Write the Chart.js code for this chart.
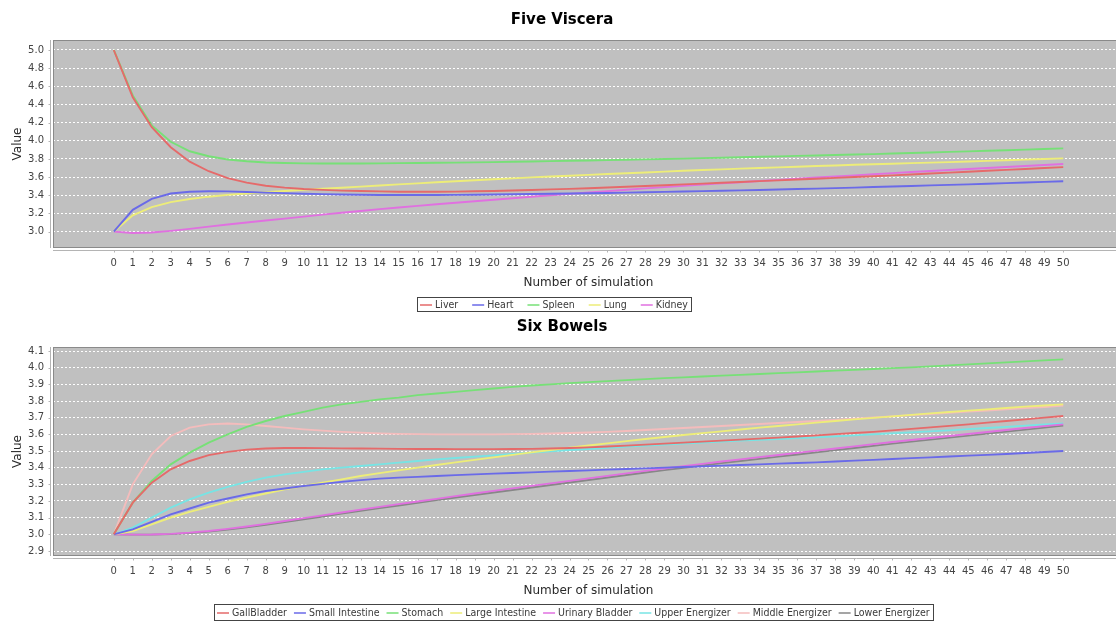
<!DOCTYPE html>
<html>
<head>
<meta charset="utf-8">
<script src="https://cdn.jsdelivr.net/npm/chart.js@4.4.1/dist/chart.umd.min.js"></script>
<style>
  html, body { margin: 0; padding: 0; background: #ffffff; overflow: hidden; width: 1116px; height: 621px; }
  .panel { position: absolute; left: 0; }
  #panelTop { top: 0; }
  #panelBottom { top: 315px; }
</style>
</head>
<body>
<div class="panel" id="panelTop"><canvas id="viscera" width="1133" height="315" style="width:1133px;height:315px"></canvas></div>
<div class="panel" id="panelBottom"><canvas id="bowels" width="1133" height="306" style="width:1133px;height:306px"></canvas></div>
<script>
// Simulation steps shown on the x axis
const simulationSteps = ["0","1","2","3","4","5","6","7","8","9","10","11","12","13","14","15","16","17","18","19","20",
  "21","22","23","24","25","26","27","28","29","30","31","32","33","34","35","36","37","38","39","40",
  "41","42","43","44","45","46","47","48","49","50"];

// ---- Five Viscera ----
const visceraNames = ["Liver", "Heart", "Spleen", "Lung", "Kidney"];
const liver = [5.0,4.48,4.15,3.93,3.77,3.665,3.59,3.54,3.505,3.485,3.47,
  3.46,3.452,3.447,3.443,3.44,3.44,3.44,3.441,3.444,3.448,
  3.453,3.459,3.465,3.471,3.478,3.486,3.494,3.502,3.511,3.52,
  3.529,3.538,3.547,3.556,3.565,3.574,3.583,3.592,3.601,3.61,
  3.62,3.63,3.64,3.65,3.66,3.67,3.68,3.69,3.70,3.71];
const heart = [3.0,3.24,3.36,3.42,3.44,3.445,3.443,3.437,3.43,3.424,3.418,
  3.413,3.409,3.406,3.404,3.403,3.403,3.404,3.405,3.407,3.409,
  3.411,3.414,3.417,3.42,3.423,3.426,3.43,3.434,3.438,3.442,
  3.446,3.45,3.454,3.459,3.464,3.469,3.474,3.479,3.485,3.491,
  3.497,3.503,3.509,3.515,3.521,3.527,3.534,3.541,3.548,3.555];
const spleen = [5.0,4.5,4.17,3.99,3.885,3.83,3.795,3.775,3.762,3.755,3.752,
  3.75,3.75,3.75,3.752,3.754,3.756,3.758,3.76,3.763,3.766,
  3.769,3.772,3.776,3.78,3.784,3.788,3.792,3.796,3.80,3.804,
  3.809,3.814,3.819,3.824,3.829,3.834,3.839,3.844,3.849,3.854,
  3.86,3.866,3.872,3.878,3.884,3.89,3.896,3.903,3.91,3.917];
const lung = [3.0,3.18,3.27,3.325,3.36,3.385,3.405,3.42,3.435,3.448,3.46,
  3.472,3.484,3.496,3.508,3.52,3.532,3.544,3.555,3.566,3.577,
  3.587,3.597,3.607,3.616,3.625,3.634,3.643,3.652,3.661,3.67,
  3.678,3.686,3.694,3.701,3.708,3.715,3.722,3.729,3.736,3.742,
  3.748,3.754,3.76,3.766,3.772,3.779,3.786,3.793,3.80,3.807];
const kidney = [3.0,2.985,2.99,3.008,3.03,3.055,3.078,3.1,3.122,3.144,3.166,
  3.187,3.208,3.228,3.248,3.266,3.284,3.301,3.318,3.335,3.352,
  3.368,3.384,3.4,3.416,3.431,3.446,3.461,3.476,3.49,3.504,
  3.518,3.531,3.544,3.557,3.57,3.583,3.596,3.608,3.62,3.632,
  3.644,3.656,3.667,3.678,3.689,3.7,3.711,3.722,3.733,3.744];
const visceraTicks = [3.0, 3.2, 3.4, 3.6, 3.8, 4.0, 4.2, 4.4, 4.6, 4.8, 5.0];

// ---- Six Bowels ----
const bowelNames = ["GallBladder", "Small Intestine", "Stomach", "Large Intestine",
  "Urinary Bladder", "Upper Energizer", "Middle Energizer", "Lower Energizer"];
const gallBladder = [3.0,3.19,3.31,3.39,3.44,3.475,3.495,3.508,3.515,3.518,3.518,
  3.517,3.516,3.515,3.514,3.513,3.512,3.512,3.511,3.511,3.511,
  3.512,3.513,3.515,3.518,3.522,3.527,3.532,3.538,3.544,3.55,
  3.556,3.562,3.568,3.574,3.58,3.587,3.594,3.601,3.608,3.615,
  3.624,3.633,3.642,3.651,3.66,3.67,3.68,3.69,3.70,3.71];
const smallIntestine = [3.0,3.03,3.075,3.12,3.155,3.19,3.215,3.24,3.26,3.275,3.29,
  3.303,3.315,3.325,3.334,3.34,3.345,3.35,3.355,3.36,3.364,
  3.368,3.372,3.376,3.38,3.384,3.388,3.392,3.396,3.40,3.404,
  3.408,3.412,3.416,3.42,3.424,3.428,3.432,3.437,3.442,3.447,
  3.452,3.457,3.462,3.467,3.472,3.477,3.482,3.488,3.494,3.50];
const stomach = [3.0,3.19,3.32,3.42,3.49,3.55,3.60,3.645,3.68,3.71,3.735,
  3.76,3.78,3.795,3.81,3.82,3.835,3.845,3.855,3.865,3.875,
  3.885,3.893,3.90,3.907,3.913,3.919,3.925,3.931,3.937,3.942,
  3.947,3.952,3.957,3.962,3.967,3.972,3.977,3.982,3.987,3.992,
  3.997,4.002,4.008,4.014,4.02,4.026,4.032,4.038,4.044,4.05];
const largeIntestine = [3.0,3.02,3.06,3.10,3.135,3.165,3.195,3.22,3.245,3.27,3.29,
  3.31,3.33,3.35,3.367,3.384,3.40,3.416,3.432,3.447,3.462,
  3.477,3.492,3.506,3.52,3.533,3.546,3.559,3.572,3.584,3.596,
  3.607,3.618,3.629,3.64,3.65,3.66,3.67,3.68,3.69,3.699,
  3.708,3.717,3.726,3.734,3.742,3.75,3.758,3.766,3.773,3.78];
const urinaryBladder = [3.0,2.998,2.999,3.003,3.01,3.02,3.033,3.047,3.063,3.08,3.097,
  3.114,3.131,3.148,3.165,3.181,3.197,3.213,3.229,3.245,3.261,
  3.276,3.291,3.306,3.321,3.336,3.351,3.366,3.381,3.395,3.409,
  3.423,3.437,3.45,3.463,3.476,3.489,3.502,3.515,3.528,3.541,
  3.554,3.566,3.578,3.59,3.602,3.614,3.626,3.638,3.649,3.66];
const upperEnergizer = [3.0,3.04,3.10,3.16,3.21,3.25,3.285,3.315,3.34,3.36,3.375,
  3.39,3.40,3.41,3.42,3.43,3.44,3.45,3.458,3.466,3.474,
  3.482,3.49,3.498,3.505,3.512,3.519,3.526,3.532,3.538,3.544,
  3.55,3.556,3.562,3.567,3.572,3.577,3.582,3.588,3.594,3.60,
  3.606,3.612,3.618,3.624,3.631,3.638,3.645,3.652,3.659,3.666];
const middleEnergizer = [3.0,3.30,3.48,3.59,3.64,3.66,3.665,3.66,3.65,3.64,3.63,
  3.622,3.615,3.61,3.606,3.603,3.601,3.60,3.60,3.60,3.60,
  3.601,3.603,3.605,3.608,3.611,3.615,3.62,3.626,3.632,3.638,
  3.644,3.65,3.656,3.662,3.668,3.674,3.68,3.687,3.694,3.701,
  3.708,3.715,3.722,3.729,3.736,3.743,3.75,3.757,3.764,3.772];
const lowerEnergizer = [3.0,2.998,2.998,3.001,3.007,3.016,3.028,3.042,3.057,3.073,3.09,
  3.107,3.124,3.141,3.157,3.173,3.189,3.205,3.221,3.236,3.251,
  3.266,3.281,3.296,3.311,3.326,3.341,3.356,3.371,3.385,3.399,
  3.413,3.427,3.44,3.453,3.466,3.479,3.492,3.505,3.518,3.531,
  3.544,3.556,3.568,3.58,3.592,3.604,3.616,3.628,3.64,3.652];
const bowelTicks = [2.9, 3.0, 3.1, 3.2, 3.3, 3.4, 3.5, 3.6, 3.7, 3.8, 3.9, 4.0, 4.1];

// Series paints (red, blue, green, yellow, magenta, cyan, pink, gray)
const paints = ["#e56a6a", "#6a6ae8", "#77e077", "#eded78", "#e070e0", "#77e4e4", "#f4bcbc", "#878787"];

const FONT = "'DejaVu Sans', Verdana, sans-serif";

// Grey plot background, plot outline and the detached axis lines
const plotFrame = {
  id: 'plotFrame',
  beforeDraw(chart) {
    const a = chart.chartArea, ctx = chart.ctx;
    ctx.save();
    ctx.fillStyle = '#c0c0c0';
    ctx.fillRect(a.left, a.top, a.right - a.left, a.bottom - a.top);
    ctx.restore();
  },
  afterDraw(chart) {
    const a = chart.chartArea, ctx = chart.ctx;
    ctx.save();
    ctx.strokeStyle = '#8a8a8a';
    ctx.lineWidth = 1;
    ctx.strokeRect(Math.round(a.left) + 0.5, Math.round(a.top) + 0.5,
      Math.round(a.right - a.left) - 1, Math.round(a.bottom - a.top) - 1);
    ctx.strokeStyle = '#b4b4b4';
    ctx.beginPath();
    const ax = Math.round(a.left) - 2.5;
    ctx.moveTo(ax, a.top); ctx.lineTo(ax, a.bottom);
    chart.scales.y.ticks.forEach(t => {
      const py = Math.round(chart.scales.y.getPixelForValue(t.value)) + 0.5;
      ctx.moveTo(ax - 2, py); ctx.lineTo(ax, py);
    });
    const ay = Math.round(a.bottom) + 2.5;
    ctx.moveTo(a.left, ay); ctx.lineTo(a.right, ay);
    chart.scales.x.ticks.forEach(t => {
      const px = Math.round(chart.scales.x.getPixelForValue(t.value)) + 0.5;
      ctx.moveTo(px, ay); ctx.lineTo(px, ay + 2);
    });
    ctx.stroke();
    ctx.restore();
  }
};

// Legend drawn inside a thin rectangle below the axis title
const boxedLegend = {
  id: 'boxedLegend',
  afterDraw(chart, args, opts) {
    const ctx = chart.ctx;
    ctx.save();
    ctx.font = opts.font;
    const items = chart.data.datasets.map(ds => ({
      label: ds.label, color: ds.borderColor, w: ctx.measureText(ds.label).width
    }));
    const total = opts.padding * 2 +
      items.reduce((s, it) => s + opts.lineLength + opts.gapInner + it.w, 0) +
      opts.gapOuter * (items.length - 1);
    const left = Math.round(opts.centerX - total / 2);
    ctx.strokeStyle = '#444';
    ctx.lineWidth = 1;
    ctx.strokeRect(left + 0.5, opts.top + 0.5, Math.round(total), opts.height);
    const cy = opts.top + opts.height / 2 + 1;
    let x = left + opts.padding;
    ctx.textBaseline = 'middle';
    ctx.textAlign = 'left';
    items.forEach(it => {
      ctx.strokeStyle = it.color;
      ctx.lineWidth = 1.5;
      ctx.beginPath();
      ctx.moveTo(x, cy); ctx.lineTo(x + opts.lineLength, cy);
      ctx.stroke();
      x += opts.lineLength + opts.gapInner;
      ctx.fillStyle = '#3a3a3a';
      ctx.fillText(it.label, x, cy);
      x += it.w + opts.gapOuter;
    });
    ctx.restore();
  }
};

function makeChart(canvasId, titleText, names, series, yTicks, yMin, yMax, titlePad, legendOpts, bottomPad) {
  const datasets = series.map((values, i) => ({
    label: names[i],
    data: values.map((v, k) => ({ x: k, y: v })),
    borderColor: paints[i],
    backgroundColor: paints[i],
    borderWidth: 1.9,
    pointRadius: 0,
    tension: 0,
    fill: false
  }));
  return new Chart(document.getElementById(canvasId), {
    type: 'line',
    data: { datasets },
    plugins: [plotFrame, boxedLegend],
    options: {
      responsive: false,
      animation: false,
      devicePixelRatio: 1,
      layout: { padding: { left: 0, right: 9, top: 0, bottom: bottomPad } },
      plugins: {
        legend: { display: false },
        tooltip: { enabled: false },
        title: {
          display: true, text: titleText, color: '#000',
          font: { family: FONT, size: 15, weight: 'bold', lineHeight: 1.2 },
          padding: titlePad
        },
        boxedLegend: legendOpts
      },
      scales: {
        x: {
          type: 'linear', min: -3.2, max: 53.2,
          afterBuildTicks: s => { s.ticks = simulationSteps.map((_, i) => ({ value: i })); },
          afterFit: s => { s.height = 44; },
          ticks: {
            autoSkip: false, maxRotation: 0, padding: 9, color: '#444',
            font: { family: FONT, size: 10 },
            callback: v => simulationSteps[v]
          },
          grid: { display: false, drawTicks: false },
          border: { display: false },
          title: {
            display: true, text: 'Number of simulation', color: '#2a2a2a',
            font: { family: FONT, size: 12, lineHeight: 1.2 },
            padding: { top: 2, bottom: 2 }
          }
        },
        y: {
          min: yMin, max: yMax,
          afterBuildTicks: s => { s.ticks = yTicks.map(v => ({ value: v })); },
          afterFit: s => { s.width = 53; },
          ticks: {
            padding: 9, color: '#444',
            font: { family: FONT, size: 10 },
            callback: v => Number(v).toFixed(1)
          },
          grid: { color: '#ffffff', lineWidth: 1, drawTicks: false },
          border: { display: false, dash: [2, 2] },
          title: {
            display: true, text: 'Value', color: '#2a2a2a',
            font: { family: FONT, size: 12, lineHeight: 1.2 },
            padding: { top: 11, bottom: 0 }
          }
        }
      }
    }
  });
}

const legendFont = "10.5px 'DejaVu Sans Condensed', 'DejaVu Sans', sans-serif";

makeChart('viscera', 'Five Viscera', visceraNames,
  [liver, heart, spleen, lung, kidney],
  visceraTicks, 2.82, 5.11,
  { top: 11, bottom: 11 },
  { centerX: 554, top: 297, height: 14, font: legendFont, lineLength: 12, gapInner: 3, gapOuter: 14, padding: 3 },
  23);

makeChart('bowels', 'Six Bowels', bowelNames,
  [gallBladder, smallIntestine, stomach, largeIntestine, urinaryBladder, upperEnergizer, middleEnergizer, lowerEnergizer],
  bowelTicks, 2.87, 4.124,
  { top: 3, bottom: 11 },
  { centerX: 573, top: 289, height: 16, font: legendFont, lineLength: 12, gapInner: 3, gapOuter: 7, padding: 3 },
  21);
</script>
</body>
</html>
